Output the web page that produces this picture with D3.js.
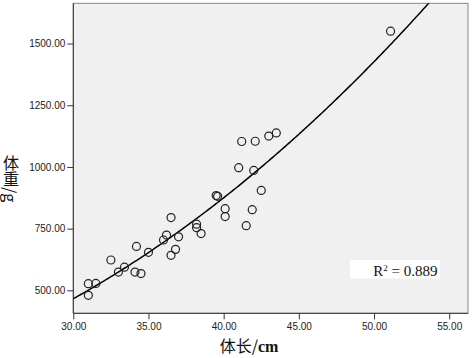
<html>
<head>
<style>
    body { margin: 0; background: #fff; }
    .tick text { font-family: "Liberation Sans", Arial, sans-serif; font-size: 10px; fill: #222; }
    .tick line { stroke: #333; }
    .dot { fill: none; stroke: #222; stroke-width: 1.2; }
    .fit { fill: none; stroke: #000; stroke-width: 1.5; }
</style>
</head>
<body>
<svg id="chart" width="472" height="358"></svg>

<script src="https://d3js.org/d3.v7.min.js"></script>
<script>
// body length (cm) and weight (g)
let lengths = [31.0, 31.0, 31.5, 32.5, 33.0, 33.4, 34.1, 34.5, 34.2, 35.0, 36.0,
               36.2, 36.5, 36.5, 36.8, 37.0, 41.2, 42.1, 43.0, 43.5, 41.0, 42.0,
               39.5, 39.6, 42.5, 40.1, 40.1, 41.9, 41.5, 38.2, 38.2, 38.5, 51.1]
let weights = [527, 480, 528, 623, 574, 594, 574, 568, 678, 654, 704,
               724, 795, 642, 666, 717, 1103, 1104, 1125, 1138, 997, 986,
               884, 881, 905, 831, 799, 827, 762, 768, 754, 730, 1550]

let xTicks = [30, 35, 40, 45, 50, 55]
let yTicks = [500, 750, 1000, 1250, 1500]

// power fit  W = a * (L/30)^b
let fitA = 466
let fitB = 2.19
let rSquared = "0.889"

let svg = d3.select("#chart")
let plotLeft = 73.3, plotRight = 468, plotTop = 3.3, plotBottom = 313.3

let xScale = d3.scaleLinear().domain([30, 56.25]).range([plotLeft, plotRight])
let yScale = d3.scaleLinear().domain([407, 1663]).range([plotBottom, plotTop])

svg.append("rect")
    .attr("x", plotLeft).attr("y", plotTop)
    .attr("width", plotRight - plotLeft).attr("height", plotBottom - plotTop)
    .attr("fill", "#f0f0f0")
    .attr("stroke", "#888")

svg.append("clipPath").attr("id", "clip")
    .append("rect")
    .attr("x", plotLeft).attr("y", plotTop)
    .attr("width", plotRight - plotLeft).attr("height", plotBottom - plotTop)

let xAxis = svg.append("g")
    .attr("transform", "translate(0," + plotBottom + ")")
    .call(d3.axisBottom(xScale).tickValues(xTicks).tickFormat(d3.format(".2f")).tickSize(6).tickSizeOuter(0).tickPadding(4))
xAxis.select(".domain").remove()

let yAxis = svg.append("g")
    .attr("transform", "translate(" + plotLeft + ",0)")
    .call(d3.axisLeft(yScale).tickValues(yTicks).tickFormat(d3.format(".2f")).tickSize(6).tickSizeOuter(0).tickPadding(2))
yAxis.select(".domain").remove()

// darker left and bottom axis lines
svg.append("line").attr("x1", plotLeft).attr("x2", plotLeft).attr("y1", plotTop).attr("y2", plotBottom).attr("stroke", "#333")
svg.append("line").attr("x1", plotLeft).attr("x2", plotRight).attr("y1", plotBottom).attr("y2", plotBottom).attr("stroke", "#333")

// fitted curve
let fitX = d3.range(30, 56.25, 0.1)
let fitLine = d3.line()
    .x(d => xScale(d))
    .y(d => yScale(fitA * Math.pow(d / 30, fitB)))
svg.append("path")
    .datum(fitX)
    .attr("class", "fit")
    .attr("clip-path", "url(#clip)")
    .attr("d", fitLine)

svg.append("g").selectAll("circle")
    .data(lengths)
    .join("circle")
    .attr("class", "dot")
    .attr("cx", d => xScale(d))
    .attr("cy", (d, i) => yScale(weights[i]))
    .attr("r", 4)

// R² box
svg.append("rect")
    .attr("x", 350).attr("y", 260)
    .attr("width", 90).attr("height", 18.5)
    .attr("fill", "#fff")
let r2 = svg.append("text")
    .attr("x", 437.5).attr("y", 275.5)
    .attr("text-anchor", "end")
    .style("font-family", "'Liberation Serif', 'Times New Roman', serif")
    .style("font-size", "15px")
    .attr("fill", "#111")
r2.append("tspan").text("R")
r2.append("tspan").text("2").attr("dy", -5).style("font-size", "9px")
r2.append("tspan").text(" = " + rSquared).attr("dy", 5)

// axis titles
let xTitle = svg.append("text")
    .attr("x", 249).attr("y", 352)
    .attr("text-anchor", "middle")
    .attr("fill", "#111")
xTitle.append("tspan").text("体长/").style("font-family", "'Noto Sans CJK SC', sans-serif").style("font-size", "16px")
xTitle.append("tspan").text("cm").style("font-family", "'Liberation Serif', serif").style("font-weight", "bold").style("font-size", "16px")

svg.append("text")
    .attr("x", 11).attr("y", 155)
    .attr("writing-mode", "vertical-rl")
    .attr("fill", "#111")
    .style("font-family", "'Noto Sans CJK SC', sans-serif")
    .style("font-size", "16px")
    .text("体重/g")
</script>
</body>
</html>
